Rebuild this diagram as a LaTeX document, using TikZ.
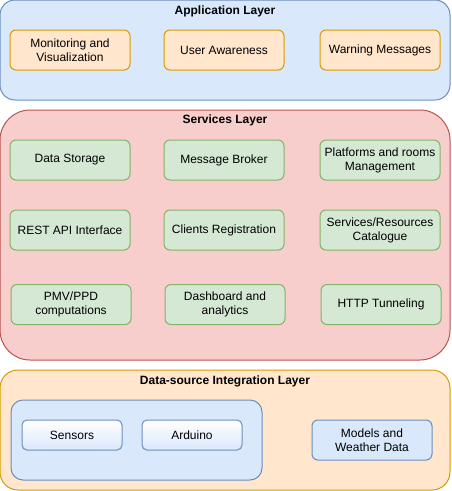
\documentclass[tikz,border=0pt]{standalone}
\usepackage{fontspec}
\setmainfont{Liberation Sans}
\definecolor{bluefill}{HTML}{DAE8FC}
\definecolor{bluedraw}{HTML}{6C8EBF}
\definecolor{orangefill}{HTML}{FFE6CC}
\definecolor{orangedraw}{HTML}{D79B00}
\definecolor{redfill}{HTML}{F8CECC}
\definecolor{reddraw}{HTML}{B85450}
\definecolor{greenfill}{HTML}{D5E8D4}
\definecolor{greendraw}{HTML}{82B366}
\begin{document}
\begin{tikzpicture}[x=1pt,y=-1pt]
	\tikzstyle{every node}+=[inner sep=0pt,font=\fontsize{12}{14}\selectfont,align=center]
	\tikzstyle{layer}=[draw,line width=1pt,minimum width=450pt]
	\tikzstyle{title}=[font=\fontsize{12}{14}\selectfont\bfseries]
	\tikzstyle{appbox}=[draw=orangedraw,fill=orangefill,line width=1pt,rounded corners=6pt,minimum width=120pt,minimum height=40pt]
	\tikzstyle{svcbox}=[draw=greendraw,fill=greenfill,line width=1pt,rounded corners=6pt,minimum width=120pt,minimum height=40pt]
	\tikzstyle{devbox}=[draw=bluedraw,top color=white,bottom color=bluefill,line width=1pt,rounded corners=5pt,minimum width=100pt,minimum height=30pt]
	\useasboundingbox (0,0) rectangle (451,491);
	% application layer
	\node (app) at (225,50) [layer,draw=bluedraw,fill=bluefill,rounded corners=15pt,minimum height=100pt] {};
	\node (apptitle) at (225,11) [title] {Application Layer};
	\node (monitor) at (70,50) [appbox] {Monitoring and\\Visualization};
	\node (aware) at (224,50) [appbox] {User Awareness};
	\node (warn) at (380,50) [appbox] {Warning Messages};
	% services layer
	\node (svc) at (225,235) [layer,draw=reddraw,fill=redfill,rounded corners=30pt,minimum height=250pt] {};
	\node (svctitle) at (225,120) [title] {Services Layer};
	\node (storage) at (70,160) [svcbox] {Data Storage};
	\node (broker) at (224,160) [svcbox] {Message Broker};
	\node (rooms) at (380,160) [svcbox] {Platforms and rooms\\Management};
	\node (rest) at (70,230) [svcbox] {REST API Interface};
	\node (clients) at (224,230) [svcbox] {Clients Registration};
	\node (catalogue) at (380,230) [svcbox] {Services/Resources\\Catalogue};
	\node (pmv) at (71,304.5) [svcbox] {PMV/PPD\\computations};
	\node (dash) at (225,304.5) [svcbox] {Dashboard and\\analytics};
	\node (tunnel) at (381,304.5) [svcbox] {HTTP Tunneling};
	% data-source integration layer
	\node (data) at (225,430) [layer,draw=orangedraw,fill=orangefill,rounded corners=18pt,minimum height=120pt] {};
	\node (datatitle) at (225,381) [title] {Data-source Integration Layer};
	\node (group) at (136.5,440) [draw=bluedraw,fill=bluefill,line width=1pt,rounded corners=12pt,minimum width=251pt,minimum height=80pt] {};
	\node (sensors) at (72,435) [devbox] {Sensors};
	\node (arduino) at (192,435) [devbox] {Arduino};
	\node (models) at (372,440) [draw=bluedraw,fill=bluefill,line width=1pt,rounded corners=6pt,minimum width=120pt,minimum height=40pt] {Models and\\Weather Data};
\end{tikzpicture}
\end{document}
